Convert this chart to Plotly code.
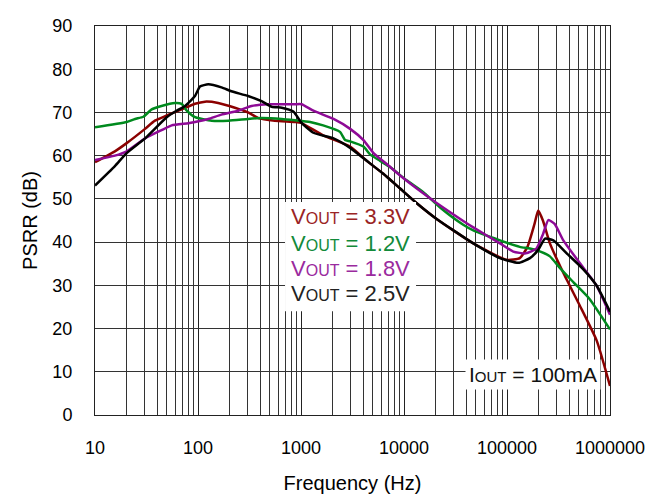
import plotly.graph_objects as go

# ---- data ----
f_33 = [10, 15.6, 20.3, 30.6, 38.2, 49.7, 69.4, 93.5, 117, 157, 228, 306, 385, 558, 874, 1000, 1640, 3000, 4350, 6300, 9160, 13300, 20900, 47100, 99000, 133000, 158000, 185000, 201000, 224000, 261000, 352000, 507000, 743000, 1000000]
db_33 = [58.5, 61, 62.9, 66.2, 68.1, 69.3, 70.7, 72, 72.5, 72.2, 71.1, 70, 68.7, 68.1, 67.8, 67.6, 64.7, 62.1, 58.8, 55.8, 52.4, 49, 45.3, 39.7, 35.9, 36.3, 38.9, 44.2, 47.3, 44.9, 39.7, 32.9, 25.4, 17.2, 6.7]

f_12 = [10, 20.3, 24.5, 29.5, 35.5, 44.2, 59.8, 69.4, 77.8, 93.5, 136, 197, 306, 414, 650, 874, 1225, 1640, 2390, 2680, 3000, 4040, 4680, 5860, 7360, 10600, 15300, 22400, 37600, 47100, 85500, 133000, 167000, 211000, 261000, 327000, 442000, 630000, 1000000]
db_12 = [66.6, 67.8, 68.5, 69, 70.7, 71.5, 72.2, 72, 70.4, 68.9, 68.1, 68.1, 68.5, 68.7, 68.5, 68.2, 67.8, 67, 65.5, 63.6, 63.3, 62.1, 60.3, 58.8, 57.3, 54.3, 51.6, 48, 44.0, 42.7, 40.4, 38.9, 38.5, 37.8, 36.7, 34, 30.7, 26.9, 19.8]

f_18 = [10, 15.6, 20.3, 30.6, 44.2, 55.5, 80.5, 93.5, 126, 169, 247, 331, 480, 874, 1013, 1320, 2070, 3000, 4040, 5060, 6830, 9160, 13300, 20900, 37600, 47100, 85500, 115000, 152000, 193000, 224000, 252000, 290000, 352000, 507000, 743000, 1000000]
db_18 = [59, 60, 61, 64, 65.9, 67, 67.5, 67.8, 68.5, 69.5, 70.4, 71.5, 71.9, 71.9, 71.9, 70.4, 68.5, 66.2, 63.6, 60.6, 58, 55.4, 52.4, 49, 44.9, 43.4, 39.7, 37.8, 37.4, 38.5, 41.9, 45.1, 44.2, 40.4, 35.2, 29.9, 23.2]

f_25 = [10, 15.6, 20.3, 30.6, 49.7, 62, 75, 93.5, 104.5, 126, 169, 211, 306, 414, 520, 650, 842, 1013, 1320, 2070, 3000, 4350, 6300, 9160, 13300, 20900, 47100, 85500, 129000, 167000, 201000, 234000, 282000, 380000, 551000, 743000, 1000000]
db_25 = [53.1, 57.6, 60.6, 64, 68.9, 70.4, 71.5, 73.8, 76, 76.5, 75.8, 74.9, 73.8, 72.6, 71.3, 71.1, 70.2, 67.6, 65.3, 64, 61.8, 58.8, 55.8, 52.4, 49, 45.3, 39.7, 36.3, 35.2, 36.3, 38.2, 40.8, 40.4, 37.4, 33.7, 29.9, 23.9]

series_names = ["VOUT = 3.3V", "VOUT = 1.2V", "VOUT = 1.8V", "VOUT = 2.5V"]
line_colors = ["#8B0000", "#008A1E", "#8E0A96", "#000000"]
text_colors = ["#9A2424", "#128A3A", "#9A2A9E", "#222222"]
label_y = [45.9, 39.7, 33.9, 28.0]
x_ticks = [10, 100, 1000, 10000, 100000, 1000000]
x_tick_text = ["10", "100", "1000", "10000", "100000", "1000000"]
y_ticks = list(range(0, 91, 10))

FONT = "Liberation Sans, Arial, sans-serif"

fig = go.Figure()
for fx, fy, name, col in zip([f_33, f_12, f_18, f_25], [db_33, db_12, db_18, db_25], series_names, line_colors):
    fig.add_trace(go.Scatter(x=fx, y=fy, mode="lines", name=name,
                             line=dict(color=col, width=2.5, shape="spline", smoothing=0.5)))

# white box behind the series labels
fig.add_shape(type="rect", xref="x", yref="y", x0=10**2.845, x1=10**4.117, y0=24.0, y1=49.3,
              fillcolor="white", line=dict(width=0), layer="above")
for name, tc, ly in zip(series_names, text_colors, label_y):
    v = name.split(" = ")[1]
    fig.add_annotation(x=2.88, y=ly, xref="x", yref="y", xanchor="left", yanchor="middle",
                       text=f"V<span style='font-size:16px'>OUT</span> = {v}", showarrow=False,
                       font=dict(family=FONT, size=22, color=tc))

fig.add_annotation(x=5.257, y=9.3, xref="x", yref="y", xanchor="center", yanchor="middle",
                   text="I<span style='font-size:15px'>OUT</span> = 100mA", showarrow=False,
                   font=dict(family=FONT, size=21, color="#111"), bgcolor="white", borderpad=3)

# page body has an 8px margin: compensate so the plot area lands where the reference has it
fig.update_layout(
    width=664, height=491,
    margin=dict(l=87, r=62, t=8, b=82.5),
    paper_bgcolor="white", plot_bgcolor="white",
    showlegend=False,
    font=dict(family=FONT, color="black"),
)
fig.update_xaxes(type="log", range=[1, 6], tickvals=x_ticks, ticktext=x_tick_text,
                 tickfont=dict(size=18, family=FONT), ticks="", ticklabelstandoff=16,
                 ticklabeloverflow="allow",
                 showgrid=True, gridcolor="#222", gridwidth=1,
                 minor=dict(showgrid=True, gridcolor="#333", gridwidth=1, dtick="D1"),
                 showline=True, linecolor="#222", linewidth=1, mirror=True, zeroline=False,
                 title=dict(text="Frequency (Hz)", font=dict(size=20, family=FONT), standoff=19))
fig.update_yaxes(range=[0, 90], tickvals=y_ticks,
                 tickfont=dict(size=18, family=FONT), ticks="", ticklabelstandoff=18,
                 ticklabeloverflow="allow",
                 showgrid=True, gridcolor="#333", gridwidth=1,
                 showline=True, linecolor="#222", linewidth=1, mirror=True, zeroline=False,
                 title=dict(text="PSRR (dB)", font=dict(size=20, family=FONT), standoff=9))

fig.write_html("out.html")
